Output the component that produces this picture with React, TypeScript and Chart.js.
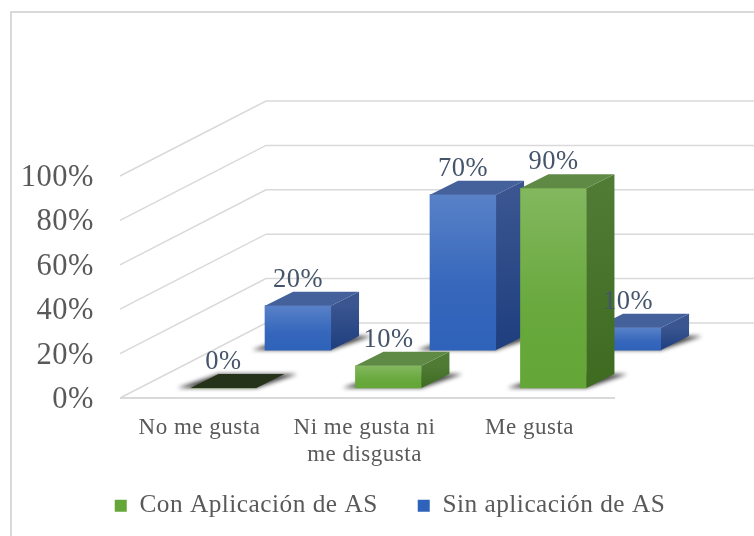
import React, { useEffect, useRef } from "react";
import { Chart, registerables } from "chart.js";

Chart.register(...registerables);

const categories = ["No me gusta", ["Ni me gusta ni", "me disgusta"], "Me gusta"];
const conAplicacion = [0, 10, 90];
const sinAplicacion = [20, 70, 10];
const yTicks = [0, 20, 40, 60, 80, 100];
const seriesNames = ["Con Aplicación de AS", "Sin aplicación de AS"];

const SERIF = "'Liberation Serif'";
const DEPTH_X = 28;
const DEPTH_Y = -14;
const WALL_DX = 146;
const WALL_DY = -75;
const SPACING = "0.5px";

const faces: Record<string, any> = {
  green: { top: "#5f8a45", sideA: "#4f7b35", sideB: "#3e6b20", zero: "#25331a" },
  blue: { top: "#45619b", sideA: "#3a5590", sideB: "#1e3e7e", zero: "#25331a" },
};

function poly(ctx: CanvasRenderingContext2D, pts: number[][], fill: any) {
  ctx.beginPath();
  pts.forEach((p, i) => (i ? ctx.lineTo(p[0], p[1]) : ctx.moveTo(p[0], p[1])));
  ctx.closePath();
  ctx.fillStyle = fill;
  ctx.fill();
}

const spacingPlugin = {
  id: "spacing",
  beforeUpdate(chart: any) {
    chart.ctx.letterSpacing = SPACING;
  },
  beforeLayout(chart: any) {
    chart.ctx.letterSpacing = SPACING;
  },
  beforeDraw(chart: any) {
    chart.ctx.letterSpacing = SPACING;
  },
};

const wallsPlugin = {
  id: "walls",
  beforeDatasetsDraw(chart: any) {
    const { ctx, chartArea, scales } = chart;
    ctx.save();
    ctx.strokeStyle = "#d9d9d9";
    ctx.lineWidth = 2;
    ctx.beginPath();
    ctx.moveTo(754, 12);
    ctx.lineTo(11, 12);
    ctx.lineTo(11, 536);
    ctx.stroke();
    ctx.lineWidth = 1.5;
    yTicks.forEach((t) => {
      const y = scales.y.getPixelForValue(t);
      ctx.beginPath();
      ctx.moveTo(chartArea.left, y);
      ctx.lineTo(chartArea.left + WALL_DX, y + WALL_DY);
      ctx.lineTo(754, y + WALL_DY);
      ctx.stroke();
    });
    const y0 = scales.y.getPixelForValue(0);
    ctx.lineWidth = 2;
    ctx.beginPath();
    ctx.moveTo(chartArea.left, y0);
    ctx.lineTo(chartArea.right, y0);
    ctx.stroke();
    ctx.restore();
  },
};

const boxPlugin = {
  id: "box3d",
  beforeDatasetDraw(chart: any, args: any) {
    const ctx = chart.ctx;
    ctx.save();
    ctx.filter = "blur(2px)";
    args.meta.data.forEach((el: any) => {
      const l = el.x - el.width / 2;
      const r = el.x + el.width / 2;
      const b = el.base;
      poly(
        ctx,
        [
          [l - 13, b],
          [r, b],
          [r + DEPTH_X + 13, b + DEPTH_Y],
          [l + DEPTH_X, b + DEPTH_Y],
        ],
        "rgba(0,0,0,0.72)"
      );
    });
    ctx.restore();
  },
  afterDatasetDraw(chart: any, args: any) {
    const ctx = chart.ctx;
    const f = faces[chart.data.datasets[args.index].tone];
    ctx.save();
    args.meta.data.forEach((el: any, i: number) => {
      const l = el.x - el.width / 2;
      const r = el.x + el.width / 2;
      const t = el.y;
      const b = el.base;
      const value = chart.data.datasets[args.index].data[i].y;
      if (b - t > 1) {
        const sheen = ctx.createLinearGradient(0, t, 0, b);
        sheen.addColorStop(0, "rgba(255,255,255,0.2)");
        sheen.addColorStop(0.6, "rgba(255,255,255,0.03)");
        sheen.addColorStop(1, "rgba(255,255,255,0)");
        ctx.fillStyle = sheen;
        ctx.fillRect(l, t, r - l, b - t);
        const side = ctx.createLinearGradient(0, t, 0, b);
        side.addColorStop(0, f.sideA);
        side.addColorStop(1, f.sideB);
        poly(
          ctx,
          [
            [r, t],
            [r + DEPTH_X, t + DEPTH_Y],
            [r + DEPTH_X, b + DEPTH_Y],
            [r, b],
          ],
          side
        );
      }
      poly(
        ctx,
        [
          [l, t],
          [r, t],
          [r + DEPTH_X, t + DEPTH_Y],
          [l + DEPTH_X, t + DEPTH_Y],
        ],
        value === 0 ? f.zero : f.top
      );
    });
    ctx.restore();
  },
  afterDatasetsDraw(chart: any) {
    const ctx = chart.ctx;
    ctx.save();
    ctx.font = `26.5px ${SERIF}`;
    ctx.fillStyle = "#44546a";
    ctx.textAlign = "center";
    ctx.textBaseline = "middle";
    chart.data.datasets.forEach((ds: any, di: number) => {
      chart.getDatasetMeta(di).data.forEach((el: any, i: number) => {
        ctx.fillText(`${ds.data[i].y}%`, el.x, el.y - 26);
      });
    });
    ctx.restore();
  },
};

const legendPlacement = {
  id: "legendPlacement",
  afterLayout(chart: any) {
    const lg = chart.legend;
    const h = lg.bottom - lg.top;
    lg.left = 26;
    lg.right = 754;
    lg.width = 728;
    lg.top = 453;
    lg.bottom = 453 + h;
  },
};

export default function App() {
  const ref = useRef<HTMLCanvasElement>(null);
  useEffect(() => {
    const canvas = ref.current as HTMLCanvasElement;
    const chart = new Chart(canvas, {
      type: "bar",
      data: {
        labels: categories as any,
        datasets: [
          {
            tone: "green",
            label: seriesNames[0],
            data: conAplicacion.map((y, x) => ({ x, y })),
            backgroundColor: "#64a637",
            borderWidth: 0,
            xAxisID: "xGreen",
            yAxisID: "yGreen",
            barThickness: 66,
            grouped: false,
            order: 0,
            clip: false,
          },
          {
            tone: "blue",
            label: seriesNames[1],
            data: sinAplicacion.map((y, x) => ({ x, y })),
            backgroundColor: "#2f62ba",
            borderWidth: 0,
            xAxisID: "xBlue",
            yAxisID: "yBlue",
            barThickness: 66,
            grouped: false,
            order: 1,
            clip: false,
          },
        ] as any,
      },
      options: {
        responsive: false,
        animation: false,
        layout: { padding: { left: 0, right: 0, top: 176, bottom: -7.3 } },
        plugins: {
          tooltip: { enabled: false },
          legend: {
            position: "bottom",
            labels: {
              boxWidth: 12,
              boxHeight: 12,
              padding: 40,
              font: { family: SERIF, size: 25.3 },
              color: "#595959",
            },
          },
        },
        scales: {
          x: {
            type: "category",
            grid: { display: false },
            border: { display: false },
            afterFit: (s: any) => {
              s.height = 70;
            },
            ticks: {
              maxRotation: 0,
              autoSkip: false,
              padding: 8,
              labelOffset: -3,
              color: "#595959",
              font: { family: SERIF, size: 23 },
            },
          },
          y: {
            type: "linear",
            min: 0,
            max: 100,
            grid: { display: false },
            border: { display: false },
            afterFit: (s: any) => {
              s.width = 120;
            },
            ticks: {
              stepSize: 20,
              padding: 18,
              labelOffset: 2,
              color: "#595959",
              font: { family: SERIF, size: 30.5 },
              callback: (v: any) => `${v}%`,
            },
          },
          rightGutter: {
            type: "linear",
            axis: "y",
            position: "right",
            grid: { display: false },
            border: { display: false },
            ticks: { display: false },
            afterFit: (s: any) => {
              s.width = 139;
            },
          },
          xGreen: { type: "linear", axis: "x", display: false, offset: false, min: -0.627, max: 2.373 },
          xBlue: { type: "linear", axis: "x", display: false, offset: false, min: -1.079, max: 1.921 },
          yGreen: { type: "linear", axis: "y", display: false, min: -4.5, max: 95.5 },
          yBlue: { type: "linear", axis: "y", display: false, min: -21.6, max: 78.4 },
        },
      } as any,
      plugins: [spacingPlugin, wallsPlugin, boxPlugin, legendPlacement],
    });
    return () => chart.destroy();
  }, []);
  return (
    <div style={{ position: "absolute", left: 0, top: 0, width: 754, height: 536, overflow: "hidden", background: "#fff" }}>
      <canvas ref={ref} width={754} height={536} style={{ display: "block" }} />
    </div>
  );
}
